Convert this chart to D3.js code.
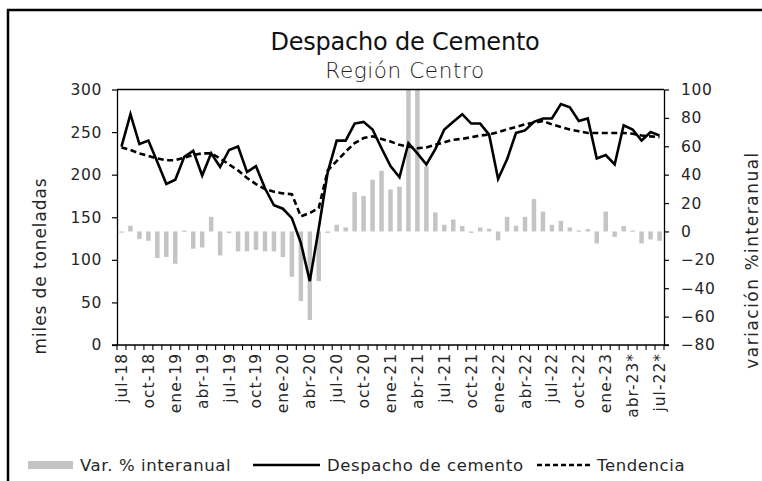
<!DOCTYPE html>
<html>
<head>
<meta charset="utf-8">
<script src="https://cdn.jsdelivr.net/npm/d3@7"></script>
<style>
  html, body { margin: 0; padding: 0; background: #fff; }
  svg { display: block; font-family: "DejaVu Sans", sans-serif; }
</style>
</head>
<body>
<svg id="chart" width="762" height="481"></svg>
<script>
// Monthly series, jul-18 .. jul-23
const months = [
  "jul-18","ago-18","sep-18","oct-18","nov-18","dic-18",
  "ene-19","feb-19","mar-19","abr-19","may-19","jun-19","jul-19","ago-19","sep-19","oct-19","nov-19","dic-19",
  "ene-20","feb-20","mar-20","abr-20","may-20","jun-20","jul-20","ago-20","sep-20","oct-20","nov-20","dic-20",
  "ene-21","feb-21","mar-21","abr-21","may-21","jun-21","jul-21","ago-21","sep-21","oct-21","nov-21","dic-21",
  "ene-22","feb-22","mar-22","abr-22","may-22","jun-22","jul-22","ago-22","sep-22","oct-22","nov-22","dic-22",
  "ene-23","feb-23","mar-23","abr-23","may-23","jun-23","jul-23"
];

// Cement dispatch, thousand tonnes
const despacho = [
  233, 271, 236, 240, 215, 189,
  194, 221, 228, 199, 225, 209, 229, 233, 203, 210, 184, 164,
  160, 149, 120, 75, 137, 203, 240, 240, 260, 262, 253, 231,
  210, 197, 237, 225, 212, 230, 253, 262, 271, 260, 260, 247,
  195, 218, 249, 252, 262, 266, 266, 283, 279, 263, 266, 219,
  223, 212, 258, 253, 240, 250, 246
];

// Trend component, thousand tonnes
const tendencia = [
  232, 229, 225, 222, 219, 217,
  217, 220, 223, 225, 225, 219, 212, 205, 196, 189, 183, 180,
  178, 177, 151, 155, 161, 205, 216, 227, 237, 243, 245, 242,
  239, 235, 233, 231, 232, 235, 238, 241, 242, 244, 246, 247,
  250, 253, 256, 259, 261, 263, 259, 256, 253, 251, 249, 249,
  249, 249, 249, 248, 246, 245, 244
];

// Year-on-year change, %
const variacion = [
  -0.6, 4, -5.4, -6.6, -18.8, -18,
  -22.8, 0.6, -12.2, -11.3, 10.3, -16.9, -1.2, -14, -14, -13, -14, -14,
  -18, -32, -49, -62.4, -35, -1, 4.7, 2.8, 27.7, 24.9, 36.4, 42.7,
  29.6, 31.5, 118, 116, 45.8, 13.4, 4.7, 8.4, 3.8, -1, 2.8, 1.9,
  -6.3, 10.3, 4, 10.3, 22.8, 14, 4.7, 7.5, 2.8, 0.7, 1.6, -8.4,
  14, -3.8, 3.8, 0.7, -8.4, -5.6, -6.6
];

// Quarterly axis labels
const tickLabels = [
  "jul-18","oct-18","ene-19","abr-19","jul-19","oct-19","ene-20","abr-20",
  "jul-20","oct-20","ene-21","abr-21","jul-21","oct-21","ene-22","abr-22",
  "jul-22","oct-22","ene-23","abr-23*","jul-22*"
];
const leftTicks = [0, 50, 100, 150, 200, 250, 300];
const rightTicks = [-80, -60, -40, -20, 0, 20, 40, 60, 80, 100];

const svg = d3.select("#chart");
const W = 762, H = 481;
const plot = { left: 117, right: 664, top: 89.5, bottom: 345 };
const textColor = "#262626";

// Outer frame
svg.append("rect")
  .attr("x", 8).attr("y", 10)
  .attr("width", W + 20).attr("height", H + 20)
  .attr("fill", "none").attr("stroke", "#000").attr("stroke-width", 2.5);

const x = d3.scaleBand()
  .domain(months)
  .range([plot.left, plot.right])
  .paddingInner(0.5)
  .paddingOuter(0.25);
const xc = m => x(m) + x.bandwidth() / 2;

const yL = d3.scaleLinear().domain([0, 300]).range([plot.bottom, plot.top]);
const yR = d3.scaleLinear().domain([-80, 100]).range([plot.bottom, plot.top]);

svg.append("defs").append("clipPath").attr("id", "plotClip")
  .append("rect")
  .attr("x", plot.left).attr("y", plot.top)
  .attr("width", plot.right - plot.left).attr("height", plot.bottom - plot.top);

// Bars: year-on-year change
svg.append("g").attr("clip-path", "url(#plotClip)")
  .selectAll("rect").data(months).join("rect")
  .attr("x", m => x(m))
  .attr("width", x.bandwidth())
  .attr("y", (m, i) => yR(Math.max(0, variacion[i])))
  .attr("height", (m, i) => Math.max(1.2, Math.abs(yR(variacion[i]) - yR(0))))
  .attr("fill", "#c4c4c4");

// Trend line (dashed)
const lineTrend = d3.line().x((d, i) => xc(months[i])).y(d => yL(d));
svg.append("path").datum(tendencia)
  .attr("d", lineTrend)
  .attr("fill", "none").attr("stroke", "#000")
  .attr("stroke-width", 2.6).attr("stroke-dasharray", "6,3.5");

// Dispatch line (solid)
const lineDesp = d3.line().x((d, i) => xc(months[i])).y(d => yL(d));
svg.append("path").datum(despacho)
  .attr("d", lineDesp)
  .attr("fill", "none").attr("stroke", "#000")
  .attr("stroke-width", 2.6).attr("stroke-linejoin", "miter");

// Plot frame: top edge
svg.append("line")
  .attr("x1", plot.left).attr("x2", plot.right)
  .attr("y1", plot.top).attr("y2", plot.top)
  .attr("stroke", "#000").attr("stroke-width", 1.3);

// Left axis
const gL = svg.append("g").attr("transform", `translate(${plot.left},0)`)
  .call(d3.axisLeft(yL).tickValues(leftTicks).tickSize(5).tickPadding(10).tickSizeOuter(0));

// Right axis
const gR = svg.append("g").attr("transform", `translate(${plot.right},0)`)
  .call(d3.axisRight(yR).tickValues(rightTicks).tickSize(5).tickPadding(12).tickSizeOuter(0));

[gL, gR].forEach(g => {
  g.select(".domain").attr("stroke", "#000").attr("stroke-width", 1.3);
  g.selectAll(".tick line").attr("stroke", "#000").attr("stroke-width", 1.2);
  g.selectAll("text").attr("font-size", 15.5).attr("fill", textColor)
    .attr("letter-spacing", 0.6)
    .attr("font-family", "'DejaVu Sans', sans-serif");
});

// Bottom axis: ticks at every month boundary
const gB = svg.append("g");
gB.append("line")
  .attr("x1", plot.left - 5).attr("x2", plot.right + 5)
  .attr("y1", plot.bottom).attr("y2", plot.bottom)
  .attr("stroke", "#000").attr("stroke-width", 1.3);
gB.selectAll("line.tk").data(d3.range(months.length + 1)).join("line")
  .attr("class", "tk")
  .attr("x1", k => x.range()[0] + k * x.step())
  .attr("x2", k => x.range()[0] + k * x.step())
  .attr("y1", plot.bottom).attr("y2", plot.bottom + 5)
  .attr("stroke", "#000").attr("stroke-width", 1.1);
gB.selectAll("text").data(tickLabels).join("text")
  .attr("transform", (t, j) => `translate(${xc(months[j * 3]) + 5.5},${plot.bottom + 8}) rotate(-90)`)
  .attr("text-anchor", "end")
  .attr("font-size", 15.5).attr("letter-spacing", 1).attr("fill", textColor)
  .text(t => t);

// Titles
svg.append("text").attr("x", 405).attr("y", 50)
  .attr("text-anchor", "middle").attr("font-size", 24).attr("fill", "#111")
  .attr("letter-spacing", -0.2)
  .text("Despacho de Cemento");
svg.append("text").attr("x", 405).attr("y", 78)
  .attr("text-anchor", "middle").attr("font-size", 21.5).attr("font-weight", 300).attr("fill", "#222")
  .attr("letter-spacing", 0.6)
  .text("Región Centro");

// Axis titles
svg.append("text")
  .attr("transform", "translate(46,266) rotate(-90)")
  .attr("text-anchor", "middle").attr("font-size", 17).attr("letter-spacing", 0.9).attr("fill", textColor)
  .text("miles de toneladas");
svg.append("text")
  .attr("transform", "translate(758,260) rotate(-90)")
  .attr("text-anchor", "middle").attr("font-size", 17).attr("letter-spacing", 1.5).attr("fill", textColor)
  .text("variación %interanual");

// Legend
const lg = svg.append("g").attr("font-size", 16.5).attr("letter-spacing", 0.6).attr("fill", textColor);
lg.append("rect").attr("x", 28).attr("y", 461).attr("width", 45).attr("height", 8).attr("fill", "#c4c4c4");
lg.append("text").attr("x", 80).attr("y", 471).text("Var. % interanual");
lg.append("line").attr("x1", 253).attr("x2", 320).attr("y1", 465).attr("y2", 465)
  .attr("stroke", "#000").attr("stroke-width", 2.4);
lg.append("text").attr("x", 327).attr("y", 471).text("Despacho de cemento");
lg.append("line").attr("x1", 537).attr("x2", 590).attr("y1", 465).attr("y2", 465)
  .attr("stroke", "#000").attr("stroke-width", 2.4).attr("stroke-dasharray", "5,3");
lg.append("text").attr("x", 597).attr("y", 471).text("Tendencia");
</script>
</body>
</html>
